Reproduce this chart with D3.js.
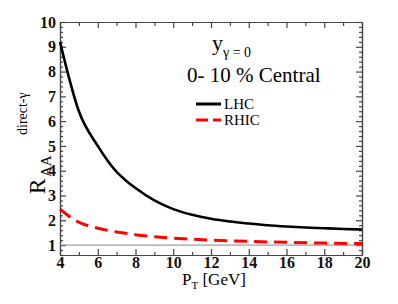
<!DOCTYPE html>
<html>
<head>
<meta charset="utf-8">
<script src="https://cdn.jsdelivr.net/npm/d3@7"></script>
<style>
  body { margin: 0; background: #fff; }
</style>
</head>
<body>
<div id="chart"></div>
<script>
// 数据：横轴 pT (GeV)，纵轴 R_AA
const ptLHC = [4, 5, 6, 7, 7.5, 8, 9, 10, 11, 12, 13, 14, 15, 16, 17, 18, 19, 20];
const raaLHC = [9.2, 6.4, 5.0, 3.95, 3.6, 3.3, 2.8, 2.45, 2.22, 2.06, 1.95, 1.87, 1.8, 1.75, 1.71, 1.68, 1.65, 1.63];
const ptRHIC = [4, 4.5, 5, 6, 7, 8, 9, 10, 12, 14, 16, 18, 20];
const raaRHIC = [2.45, 2.15, 1.92, 1.68, 1.53, 1.42, 1.34, 1.28, 1.2, 1.15, 1.11, 1.08, 1.06];
const xTicks = [4, 6, 8, 10, 12, 14, 16, 18, 20];
const yTicks = [1, 2, 3, 4, 5, 6, 7, 8, 9, 10];
const refLevel = 1;

const FONT = '"Liberation Serif", "Times New Roman", "DejaVu Serif", serif';
const W = 398, H = 304;
const margin = { top: 22, right: 36, bottom: 49, left: 60 };
const width = W - margin.left - margin.right;
const height = H - margin.top - margin.bottom;

const svg = d3.select('#chart').append('svg')
    .attr('width', W).attr('height', H)
    .style('font-family', FONT)
    .append('g')
    .attr('transform', `translate(${margin.left},${margin.top})`);

const x = d3.scaleLinear().domain([4, 20]).range([0, width]);
const y = d3.scaleLinear().domain([0.6, 10]).range([height, 0]);

const axisColor = '#444';
const minorX = d3.range(5, 20, 2);
const minorY = d3.range(0.6, 10.001, 0.2).filter(v => Math.abs(v - Math.round(v)) > 0.01);

function styleAxis(g) {
    g.attr('font-family', null).attr('font-size', null);
    g.selectAll('path, line').attr('stroke', axisColor).attr('stroke-width', 1.2);
    g.selectAll('text').attr('fill', '#111')
        .style('font-family', FONT).style('font-weight', 'bold').style('font-size', '16px');
}

// 左轴
svg.append('g').call(d3.axisLeft(y).tickValues(yTicks).tickSize(-6).tickSizeOuter(0).tickPadding(4).tickFormat(d3.format('d'))).call(styleAxis);
svg.append('g').call(d3.axisLeft(y).tickValues(minorY).tickSize(-3).tickSizeOuter(0).tickFormat('')).call(styleAxis);
// 右轴
svg.append('g').attr('transform', `translate(${width},0)`)
    .call(d3.axisRight(y).tickValues(yTicks).tickSize(-6).tickSizeOuter(0).tickFormat('')).call(styleAxis);
svg.append('g').attr('transform', `translate(${width},0)`)
    .call(d3.axisRight(y).tickValues(minorY).tickSize(-3).tickSizeOuter(0).tickFormat('')).call(styleAxis);
// 下轴
svg.append('g').attr('transform', `translate(0,${height})`)
    .call(d3.axisBottom(x).tickValues(xTicks).tickSize(-6).tickSizeOuter(0).tickPadding(2).tickFormat(d3.format('d'))).call(styleAxis);
svg.append('g').attr('transform', `translate(0,${height})`)
    .call(d3.axisBottom(x).tickValues(minorX).tickSize(-3).tickSizeOuter(0).tickFormat('')).call(styleAxis);
// 上轴
svg.append('g')
    .call(d3.axisTop(x).tickValues(xTicks).tickSize(-6).tickSizeOuter(0).tickFormat('')).call(styleAxis);
svg.append('g')
    .call(d3.axisTop(x).tickValues(minorX).tickSize(-4).tickSizeOuter(0).tickFormat('')).call(styleAxis);

// R_AA = 1 参考线
svg.append('line')
    .attr('x1', 0).attr('x2', width)
    .attr('y1', y(refLevel)).attr('y2', y(refLevel))
    .attr('stroke', '#888').attr('stroke-width', 1);

const lineLHC = d3.line().x((d, i) => x(ptLHC[i])).y(d => y(d)).curve(d3.curveMonotoneX);
const lineRHIC = d3.line().x((d, i) => x(ptRHIC[i])).y(d => y(d)).curve(d3.curveMonotoneX);

svg.append('path').datum(raaRHIC)
    .attr('fill', 'none').attr('stroke', '#f00').attr('stroke-width', 3)
    .attr('stroke-dasharray', '13,7')
    .attr('d', lineRHIC);

svg.append('path').datum(raaLHC)
    .attr('fill', 'none').attr('stroke', '#000').attr('stroke-width', 2.6)
    .attr('d', lineLHC);

// 标注文字
const ann = svg.append('g').attr('transform', `translate(${-margin.left},${-margin.top})`);
const yLab = ann.append('text').attr('x', 212).attr('y', 50).style('font-size', '22px');
yLab.append('tspan').text('y');
yLab.append('tspan').attr('dy', 7).style('font-size', '14px').text('γ = 0');

ann.append('text').attr('x', 187).attr('y', 82).style('font-size', '21px').text('0- 10 % Central');

// 图例
ann.append('line').attr('x1', 196).attr('x2', 221).attr('y1', 104).attr('y2', 104)
    .attr('stroke', '#000').attr('stroke-width', 3);
ann.append('text').attr('x', 224).attr('y', 109).style('font-size', '15px').text('LHC');
ann.append('line').attr('x1', 196).attr('x2', 221).attr('y1', 120).attr('y2', 120)
    .attr('stroke', '#f00').attr('stroke-width', 3).attr('stroke-dasharray', '12,5');
ann.append('text').attr('x', 224).attr('y', 125).style('font-size', '15px').text('RHIC');

// 纵轴标题
const yt = ann.append('g').attr('transform', 'translate(45,194) rotate(-90)');
yt.append('text').attr('x', 0).attr('y', 0).style('font-size', '23px').text('R');
yt.append('text').attr('x', 17).attr('y', 6).style('font-size', '15px').text('AA');
yt.append('text').attr('x', 59).attr('y', -18).style('font-size', '14px').text('direct-γ');

// 横轴标题
const xt = ann.append('text').attr('x', 182).attr('y', 285).style('font-size', '17px');
xt.append('tspan').text('P');
xt.append('tspan').attr('dy', 4).style('font-size', '11px').text('T');
xt.append('tspan').attr('dy', -4).text(' [GeV]');
</script>
</body>
</html>
